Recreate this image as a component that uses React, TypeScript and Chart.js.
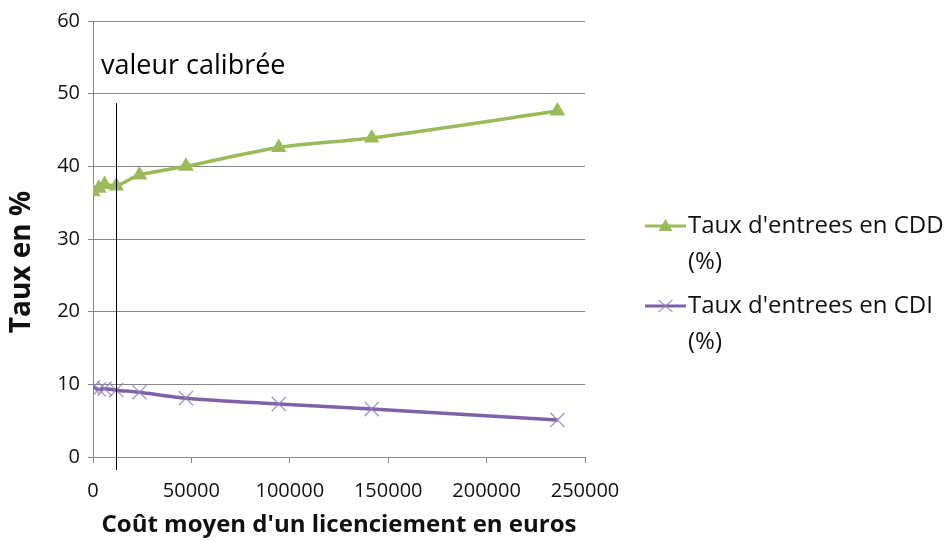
import { useEffect, useRef } from 'react';
import { Chart, registerables } from 'chart.js';

Chart.register(...registerables);

const costs = [0, 2950, 5900, 11800, 23600, 47200, 94400, 141600, 236000];
const cddRates = [36.5, 37.0, 37.5, 37.3, 38.8, 40.0, 42.6, 43.9, 47.6];
const cdiRates = [9.6, 9.3, 9.4, 9.2, 8.9, 8.1, 7.3, 6.6, 5.1];
const seriesLabels = ["Taux d'entrees en CDD", "Taux d'entrees en CDI"];
const seriesUnit = '(%)';
const calibratedCost = 11800;
const calibratedLabel = 'valeur calibrée';
const xTitle = "Coût moyen d'un licenciement en euros";
const yTitle = 'Taux en %';

const GREEN = '#9BBB59';
const PURPLE = '#7E62A8';
const PURPLE_MARK = 'rgba(150,125,190,0.75)';
const FONT = '"Open Sans", Lato, sans-serif';

const overlayPlugin = {
  id: 'overlay',
  afterDatasetsDraw(chart: any) {
    const { ctx, scales, chartArea } = chart;
    const xs = scales.x;
    const ys = scales.y;
    const cx = Math.round(xs.getPixelForValue(calibratedCost)) + 0.5;
    ctx.save();
    ctx.strokeStyle = '#000';
    ctx.lineWidth = 1;
    ctx.beginPath();
    ctx.moveTo(cx, ys.getPixelForValue(48.7));
    ctx.lineTo(cx, chartArea.bottom + 13);
    ctx.stroke();
    ctx.fillStyle = '#000';
    ctx.font = `27px ${FONT}`;
    ctx.textBaseline = 'middle';
    ctx.textAlign = 'left';
    ctx.fillText(calibratedLabel, xs.getPixelForValue(0) + 8, ys.getPixelForValue(53.8));

    // y-axis title
    ctx.save();
    ctx.translate(22, 262);
    ctx.rotate(-Math.PI / 2);
    ctx.textAlign = 'center';
    ctx.font = `bold 28px ${FONT}`;
    ctx.fillStyle = '#111';
    ctx.fillText(yTitle, 0, 0);
    ctx.restore();

    // legend
    const items = [
      { y: 226, color: GREEN, mark: 'tri' },
      { y: 306, color: PURPLE, mark: 'cross' },
    ];
    ctx.font = `24px ${FONT}`;
    items.forEach((it, i) => {
      const x0 = 645, x1 = 686, xm = (x0 + x1) / 2;
      ctx.strokeStyle = it.color;
      ctx.lineWidth = 3;
      ctx.beginPath();
      ctx.moveTo(x0, it.y);
      ctx.lineTo(x1, it.y);
      ctx.stroke();
      if (it.mark === 'tri') {
        ctx.fillStyle = GREEN;
        ctx.beginPath();
        ctx.moveTo(xm, it.y - 7);
        ctx.lineTo(xm + 7, it.y + 5);
        ctx.lineTo(xm - 7, it.y + 5);
        ctx.closePath();
        ctx.fill();
      } else {
        ctx.strokeStyle = PURPLE_MARK;
        ctx.lineWidth = 1.5;
        ctx.beginPath();
        ctx.moveTo(xm - 7, it.y - 6);
        ctx.lineTo(xm + 7, it.y + 6);
        ctx.moveTo(xm + 7, it.y - 6);
        ctx.lineTo(xm - 7, it.y + 6);
        ctx.stroke();
      }
      ctx.fillStyle = '#111';
      ctx.fillText(seriesLabels[i], 688, it.y);
      ctx.fillText(seriesUnit, 688, it.y + 36);
    });
    ctx.restore();
  },
};

export default function App() {
  const ref = useRef<HTMLCanvasElement>(null);
  useEffect(() => {
    document.body.style.margin = '0';
    const chart = new Chart(ref.current!, {
      type: 'scatter',
      data: {
        datasets: [
          {
            label: seriesLabels[0],
            data: costs.map((c, i) => ({ x: c, y: cddRates[i] })),
            showLine: true,
            borderColor: GREEN,
            backgroundColor: GREEN,
            borderWidth: 3.5,
            tension: 0.3,
            pointStyle: 'triangle',
            pointRadius: 9,
            pointBorderWidth: 0,
          },
          {
            label: seriesLabels[1],
            data: costs.map((c, i) => ({ x: c, y: cdiRates[i] })),
            showLine: true,
            borderColor: PURPLE,
            backgroundColor: PURPLE,
            borderWidth: 3.5,
            tension: 0.3,
            pointStyle: 'crossRot',
            pointRadius: 10,
            pointBorderWidth: 1.5,
            pointBorderColor: PURPLE_MARK,
          },
        ],
      },
      options: {
        responsive: false,
        animation: false,
        layout: { padding: { top: 21, right: 366, left: 0, bottom: 0 } },
        plugins: { legend: { display: false }, tooltip: { enabled: false } },
        scales: {
          x: {
            type: 'linear',
            min: 0,
            max: 250000,
            ticks: {
              stepSize: 50000,
              color: '#111',
              font: { family: FONT, size: 20 },
              padding: 16,
              maxRotation: 0,
              callback: (v: any) => String(v),
            },
            grid: { drawOnChartArea: false, color: '#868686', tickLength: 6 },
            border: { color: '#868686' },
            title: {
              display: true,
              text: xTitle,
              color: '#111',
              font: { family: FONT, size: 24, weight: 'bold' },
              padding: { top: 0, bottom: 1 },
            },
            afterFit: (s: any) => { s.height = 84; },
          },
          y: {
            min: 0,
            max: 60,
            ticks: {
              stepSize: 10,
              color: '#111',
              font: { family: FONT, size: 20 },
              padding: 8,
            },
            grid: { color: '#868686', tickLength: 5 },
            border: { color: '#868686' },
            title: { display: false },
            afterFit: (s: any) => { s.width = 93; },
          },
        },
      },
      plugins: [overlayPlugin],
    });
    return () => chart.destroy();
  }, []);
  return (
    <div style={{ width: 951, height: 541, background: '#fff' }}>
      <canvas ref={ref} width={951} height={541} />
    </div>
  );
}
